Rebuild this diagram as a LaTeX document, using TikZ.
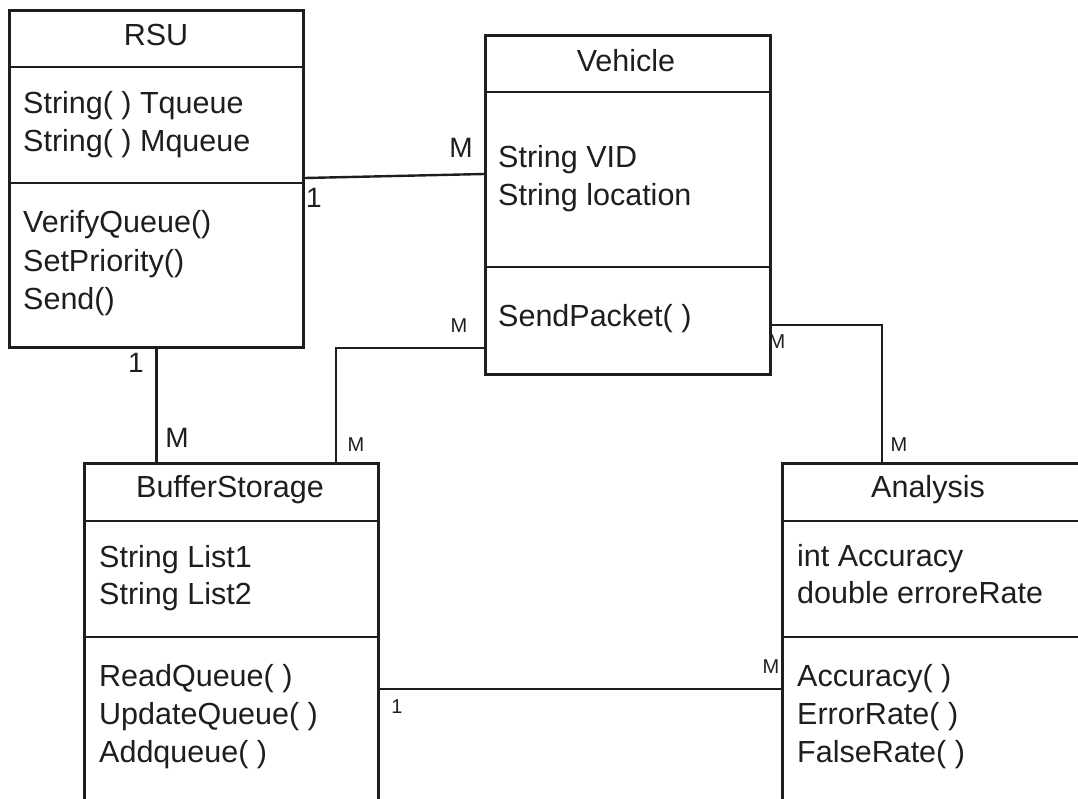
\documentclass[tikz,border=0pt]{standalone}
\usepackage{fontspec}
\setmainfont{Liberation Sans}
\usetikzlibrary{calc}
\definecolor{ink}{HTML}{1E1E1E}
\begin{document}
\begin{tikzpicture}[x=1pt,y=-1pt,
  cls/.style={draw=ink, line width=2.7pt, anchor=north west, inner sep=0pt},
  sepline/.style={draw=ink, line width=2.7pt},
  link/.style={draw=ink, line width=2.4pt},
  lbl/.style={anchor=base west, inner sep=0pt, text=ink, font=\fontsize{30.5}{36}\selectfont},
  ttl/.style={anchor=base, inner sep=0pt, text=ink, font=\fontsize{30.5}{36}\selectfont},
  bigmult/.style={inner sep=0pt, text=ink, font=\fontsize{28}{32}\selectfont},
  smallmult/.style={inner sep=0pt, text=ink, font=\fontsize{20}{24}\selectfont}]
\clip (0,0) rectangle (1078,798);
\fill[white] (0,0) rectangle (1078,798);

% ---- classes ----
\node[cls, minimum width=294pt, minimum height=337pt] (rsu) at (8,9) {};
\node[cls, minimum width=285pt, minimum height=339pt] (veh) at (484,34) {};
\node[cls, minimum width=294pt, minimum height=370pt] (buf) at (83,462) {};
\node[cls, minimum width=330pt, minimum height=370pt] (ana) at (781,462) {};

% separators
\draw[sepline] ($(rsu.north west)+(0,58)$) -- ($(rsu.north east)+(0,58)$);
\draw[sepline] ($(rsu.north west)+(0,174)$) -- ($(rsu.north east)+(0,174)$);
\draw[sepline] ($(veh.north west)+(0,58)$) -- ($(veh.north east)+(0,58)$);
\draw[sepline] ($(veh.north west)+(0,233)$) -- ($(veh.north east)+(0,233)$);
\draw[sepline] ($(buf.north west)+(0,59)$) -- ($(buf.north east)+(0,59)$);
\draw[sepline] ($(buf.north west)+(0,175)$) -- ($(buf.north east)+(0,175)$);
\draw[sepline] ($(ana.north west)+(0,59)$) -- ($(ana.north east)+(0,59)$);
\draw[sepline] ($(ana.north west)+(0,175)$) -- ($(ana.north east)+(0,175)$);

% ---- texts ----
\node[ttl] (rsuT) at (156,45) {RSU};
\node[lbl] (rsuA1) at (23,113) {String( ) Tqueue};
\node[lbl] (rsuA2) at (23,151) {String( ) Mqueue};
\node[lbl] (rsuO1) at (23,232) {VerifyQueue()};
\node[lbl] (rsuO2) at (23,271) {SetPriority()};
\node[lbl] (rsuO3) at (23,309) {Send()};

\node[ttl] (vehT) at (626,71) {Vehicle};
\node[lbl] (vehA1) at (498,167) {String VID};
\node[lbl] (vehA2) at (498,205) {String location};
\node[lbl] (vehO1) at (498,326) {SendPacket( )};

\node[ttl] (bufT) at (230,497) {BufferStorage};
\node[lbl] (bufA1) at (99,567) {String List1};
\node[lbl] (bufA2) at (99,604) {String List2};
\node[lbl] (bufO1) at (99,686) {ReadQueue( )};
\node[lbl] (bufO2) at (99,724) {UpdateQueue( )};
\node[lbl] (bufO3) at (99,762) {Addqueue( )};

\node[ttl] (anaT) at (928,497) {Analysis};
\node[lbl] (anaA1) at (797,566) {int Accuracy};
\node[lbl] (anaA2) at (797,603) {double erroreRate};
\node[lbl] (anaO1) at (797,686) {Accuracy( )};
\node[lbl] (anaO2) at (797,724) {ErrorRate( )};
\node[lbl] (anaO3) at (797,762) {FalseRate( )};

% ---- connectors ----
\draw[link] ($(rsu.north east)+(0,169)$) -- ($(veh.north west)+(0,140)$);
\draw[link] (rsu.south) -- (rsu.south |- buf.north);
\draw[link] ($(veh.north west)+(0,314)$) -| ($(buf.north west)+(253,0)$);
\draw[link] ($(veh.north east)+(0,291)$) -| ($(ana.north west)+(101,0)$);
\draw[link] ($(buf.north west)+(294,227)$) -- ($(ana.north west)+(0,227)$);

% ---- multiplicities ----
\node[bigmult] (m1) at (314,198) {1};
\node[bigmult] (m2) at (461,148) {M};
\node[bigmult] (m3) at (136,363) {1};
\node[bigmult] (m4) at (177,438) {M};
\node[smallmult] (m5) at (459,326) {M};
\node[smallmult] (m6) at (356,445) {M};
\node[smallmult] (m7) at (777,342) {M};
\node[smallmult] (m8) at (899,445) {M};
\node[smallmult] (m9) at (397,707) {1};
\node[smallmult] (m10) at (771,667) {M};
\end{tikzpicture}
\end{document}
